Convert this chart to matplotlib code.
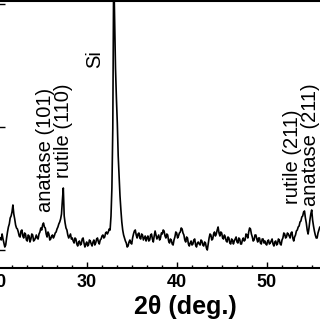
import numpy as np
import matplotlib
matplotlib.use("Agg")
from matplotlib import pyplot as plt
from matplotlib.ticker import MultipleLocator

plt.rcParams['font.family'] = ['Liberation Sans', 'DejaVu Sans']

# 2theta grid, 0.1 deg step (20.4 ... 56.0)
two_theta = np.round(np.arange(20.4, 56.05, 0.1), 1)

# intensities (arb. units)
counts = [
    150, 140, 170, 145, 125, 105, 115, 150, 180, 205, 220, 250, 260, 280, 315, 270, 245, 215, 200, 195,  # 20.4
    180, 160, 155, 185, 190, 160, 150, 175, 170, 140, 135, 165, 160, 130, 145, 170, 165, 135, 140, 150,  # 22.4
    165, 150, 145, 170, 180, 200, 190, 215, 225, 205, 200, 170, 155, 180, 170, 140, 145, 160, 165, 150,  # 24.4
    160, 175, 180, 195, 205, 220, 230, 245, 270, 340, 400, 260, 225, 200, 190, 165, 150, 160, 170, 145,  # 26.4
    150, 135, 125, 150, 145, 120, 110, 130, 135, 115, 120, 145, 150, 125, 105, 120, 130, 110, 115, 140,  # 28.4
    135, 120, 110, 130, 140, 115, 125, 145, 150, 130, 120, 140, 145, 160, 165, 150, 155, 175, 180, 170,  # 30.4
    180, 195, 190, 260, 400, 700, 1500, 1250, 1000, 850, 725, 560, 460, 360, 290, 230, 190, 165, 150, 135,  # 32.4
    125, 105, 110, 130, 140, 125, 120, 150, 170, 185, 190, 165, 150, 170, 175, 150, 145, 170, 165, 140,  # 34.4
    150, 160, 135, 150, 160, 135, 140, 165, 170, 145, 130, 160, 185, 165, 145, 155, 165, 140, 150, 175,  # 36.4
    170, 190, 185, 160, 150, 170, 165, 135, 125, 145, 140, 120, 115, 140, 155, 180, 175, 150, 160, 175,  # 38.4
    180, 200, 195, 175, 165, 140, 130, 155, 150, 120, 110, 125, 135, 115, 120, 140, 145, 115, 105, 125,  # 40.4
    130, 120, 115, 140, 135, 115, 110, 130, 125, 100, 90, 120, 150, 170, 165, 140, 145, 170, 180, 160,   # 42.4
    170, 190, 205, 175, 160, 180, 175, 150, 145, 165, 155, 135, 130, 155, 150, 125, 120, 145, 140, 120,  # 44.4
    135, 145, 155, 130, 125, 150, 145, 120, 120, 140, 150, 135, 140, 170, 165, 150, 180, 200, 195, 170,  # 46.4
    155, 135, 140, 165, 165, 145, 130, 150, 150, 125, 120, 145, 145, 125, 135, 120, 115, 135, 140, 120,  # 48.4
    125, 135, 145, 120, 110, 130, 135, 115, 120, 145, 140, 120, 115, 140, 150, 175, 170, 150, 155, 175,  # 50.4
    170, 160, 150, 175, 180, 150, 135, 155, 165, 185, 190, 205, 210, 230, 235, 255, 260, 280, 285, 250,  # 52.4
    225, 190, 170, 200, 240, 270, 290, 240, 210, 185, 165, 150, 150, 175, 190, 205, 200,                # 54.4
]

# peak labels
peak_names = ["anatase (101)", "rutile (110)", "Si", "rutile (211)", "anatase (211)"]
label_x = [25.37, 27.37, 30.92, 52.92, 54.92]
label_y = [590, 685, 1045, 555, 615]

xticks = [20, 30, 40, 50]

fig = plt.figure(figsize=(3.2, 3.2), dpi=100, facecolor='white')
# the picture is a crop: left/right spines fall outside it
ax = fig.add_axes([-3.3 / 320, 52 / 320, 360 / 320, 267 / 320])

ax.plot(two_theta, counts, color='black', lw=1.2)

for name, lx, ly in zip(peak_names, label_x, label_y):
    ax.text(lx, ly, name, rotation=90, ha='center', va='center', fontsize=14.5)

ax.set_xlim(20, 60)
ax.set_ylim(0, 1335)
ax.set_xticks(xticks, labels=[str(t) for t in xticks], fontsize=13)
for lbl in ax.get_xticklabels():
    lbl.set_fontweight('bold')
ax.xaxis.set_minor_locator(MultipleLocator(10 / 6))
ax.set_yticks([90, 705, 1320])
ax.tick_params(axis='x', which='major', direction='in', length=4, width=1, pad=4.5)
ax.tick_params(axis='x', which='minor', direction='in', length=2.5, width=1)
ax.tick_params(axis='y', direction='in', length=6, width=1, labelleft=False)

ax.set_xlabel("2θ (deg.)", fontsize=18, fontweight='bold')
ax.xaxis.set_label_coords(0.523, -0.1)

for s in ax.spines.values():
    s.set_linewidth(1.5)

fig.savefig("out.png", dpi=100)
